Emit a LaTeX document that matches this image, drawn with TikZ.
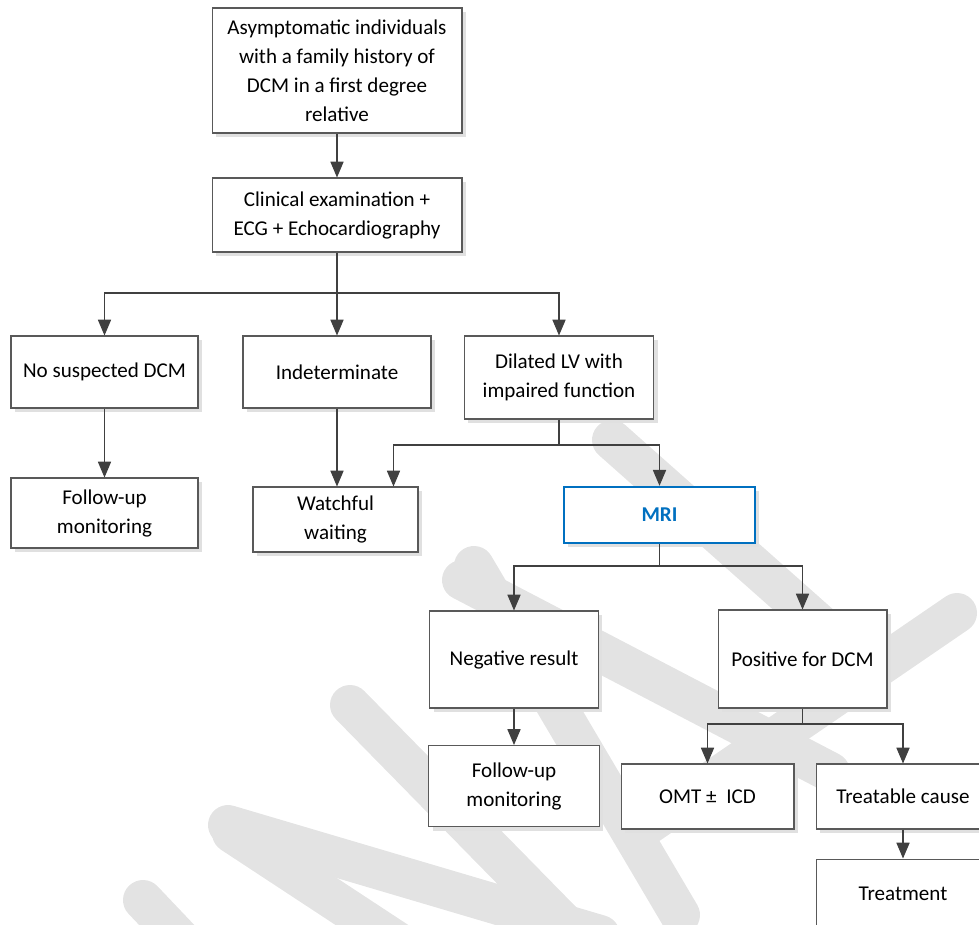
\documentclass[tikz,border=0pt]{standalone}
\usepackage{fontspec}
\setmainfont{Carlito}
\usetikzlibrary{arrows.meta,shadows,calc}
\definecolor{mriblue}{HTML}{0070C0}
\definecolor{linegray}{HTML}{404040}
\begin{document}
\begin{tikzpicture}[x=0.02cm,y=-0.02cm,
box/.style ={rectangle, draw=black!65, fill=white, line width=0.6pt,
  align=center, inner sep=2pt,
  font=\fontsize{12}{16.5}\selectfont,
  drop shadow={shadow xshift=0.08cm, shadow yshift=-0.08cm,
    fill=black!12, opacity=1}
},
key/.style ={box, draw=mriblue, line width=1.4pt, text=mriblue,
  font=\fontsize{12}{16.5}\selectfont\bfseries
},
line/.style ={draw=linegray, line width=0.6pt},
arr/.style ={line, -{Triangle[length=9pt,width=7.5pt]}},
wmark/.style ={draw=black!11, line width=0.8cm, line cap=round}]
\useasboundingbox (0,0) rectangle (979,924);
\clip (0,0) rectangle (979,924);
% watermark
\draw[wmark] (612,440) -- (860,660);
\draw[wmark] (957,613) -- (640,830);
\draw[wmark] (462,580) -- (830,772);
\draw[wmark] (474,566) -- (680,915);
\draw[wmark] (350,705) -- (600,960);
\draw[wmark] (228,825) -- (600,935);
\draw[wmark] (232,833) -- (410,950);
\draw[wmark] (143,900) -- (200,960);
% boxes
\node (start) at (337,70.5) [box, minimum width=5cm, minimum height=2.5cm]
  {Asymptomatic individuals\\with a family history of\\DCM in a first degree\\relative};
\node (exam) at (337,215) [box, minimum width=5cm, minimum height=1.48cm]
  {Clinical examination +\\ECG + Echocardiography};
\node (nodcm) at (104.5,372) [box, minimum width=3.74cm, minimum height=1.44cm]
  {No suspected DCM};
\node (indet) at (337,372) [box, minimum width=3.76cm, minimum height=1.44cm]
  {Indeterminate};
\node (dilat) at (559,377.5) [box, minimum width=3.79cm, minimum height=1.66cm]
  {Dilated LV with\\impaired function};
\node (fup1) at (104.5,513) [box, minimum width=3.74cm, minimum height=1.4cm]
  {Follow-up\\monitoring};
\node (watch) at (335.5,519.5) [box, minimum width=3.3cm, minimum height=1.3cm]
  {Watchful\\waiting};
\node (mri) at (659.5,515) [key, minimum width=3.82cm, minimum height=1.12cm]
  {MRI};
\node (neg) at (514,659.5) [box, minimum width=3.38cm, minimum height=1.94cm]
  {Negative result};
\node (pos) at (802.5,659) [box, minimum width=3.38cm, minimum height=1.96cm]
  {Positive for DCM};
\node (fup2) at (514,786) [box, minimum width=3.42cm, minimum height=1.62cm]
  {Follow-up\\monitoring};
\node (omt) at (707.5,796.5) [box, minimum width=3.46cm, minimum height=1.3cm]
  {OMT ±\ \ ICD};
\node (treat) at (903,796.5) [box, minimum width=3.48cm, minimum height=1.3cm]
  {Treatable cause};
\node (therapy) at (903,894) [box, minimum width=3.48cm, minimum height=1.4cm]
  {Treatment};
% connectors
\coordinate (j1) at (337,293);
\coordinate (j2) at (559,445);
\coordinate (j3) at (659.5,566);
\coordinate (j4) at (802.5,724);
\draw[arr] (start) -- (exam);
\draw[line] (exam) -- (j1);
\draw[arr] (j1) -| (nodcm);
\draw[arr] (j1) -- (indet);
\draw[arr] (j1) -| (dilat);
\draw[arr] (nodcm) -- (fup1);
\draw[arr] (indet) -- (indet |- watch.north);
\draw[line] (dilat) -- (j2);
\draw[arr] (j2) -| ($(watch.north)+(58,0)$);
\draw[arr] (j2) -| (mri);
\draw[line] (mri) -- (j3);
\draw[arr] (j3) -| (neg);
\draw[arr] (j3) -| (pos);
\draw[arr] (neg) -- (fup2);
\draw[line] (pos) -- (j4);
\draw[arr] (j4) -| (omt);
\draw[arr] (j4) -| (treat);
\draw[arr] (treat) -- (therapy);
\end{tikzpicture}
\end{document}
